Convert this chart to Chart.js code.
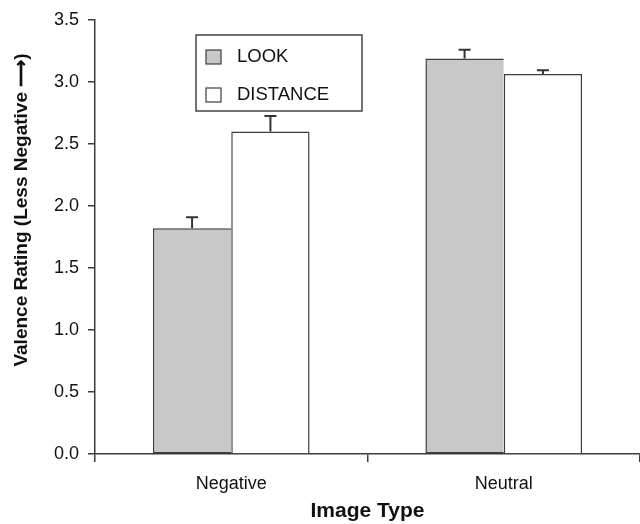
<!DOCTYPE html>
<html lang="en">
<head>
  <meta charset="UTF-8">
  <title>Valence Rating by Image Type</title>
  <script src="https://cdn.jsdelivr.net/npm/chart.js"></script>
  <style>
    html, body { margin: 0; padding: 0; background: #fff; }
  </style>
</head>
<body>
  <canvas id="valenceChart" width="640" height="524"></canvas>

  <script>
    const categories = ['Negative', 'Neutral'];
    const seriesNames = ['LOOK', 'DISTANCE'];
    const lookValues = [1.82, 3.19];
    const lookErrors = [0.09, 0.07];
    const distanceValues = [2.60, 3.065];
    const distanceErrors = [0.125, 0.03];
    const yTicks = [0, 0.5, 1.0, 1.5, 2.0, 2.5, 3.0, 3.5];

    const errors = [lookErrors, distanceErrors];
    const fontFamily = '"Liberation Sans", Arial, sans-serif';
    const edge = '#3c3c3c';

    // upward-only error bars with a small cap
    const errorBars = {
      id: 'errorBars',
      afterDatasetsDraw(chart) {
        const ctx = chart.ctx;
        const y = chart.scales.y;
        ctx.save();
        ctx.strokeStyle = '#333';
        ctx.lineWidth = 2;
        chart.data.datasets.forEach((ds, i) => {
          chart.getDatasetMeta(i).data.forEach((bar, j) => {
            const top = y.getPixelForValue(ds.data[j] + errors[i][j]);
            ctx.beginPath();
            ctx.moveTo(bar.x, bar.y);
            ctx.lineTo(bar.x, top);
            ctx.moveTo(bar.x - 6, top);
            ctx.lineTo(bar.x + 6, top);
            ctx.stroke();
          });
        });
        ctx.restore();
      }
    };

    // boxed legend inside the plot and the rotated y title
    const extras = {
      id: 'extras',
      afterDraw(chart) {
        const ctx = chart.ctx;
        const area = chart.chartArea;
        const lx = area.left + 101;
        const ly = area.top + 15;
        ctx.save();
        ctx.fillStyle = '#fff';
        ctx.fillRect(lx, ly, 166, 76);
        ctx.strokeStyle = '#444';
        ctx.lineWidth = 1.5;
        ctx.strokeRect(lx, ly, 166, 76);

        ctx.font = '18.5px ' + fontFamily;
        ctx.textBaseline = 'middle';
        chart.data.datasets.forEach((ds, i) => {
          const cy = ly + 22 + i * 38;
          ctx.fillStyle = ds.backgroundColor;
          ctx.fillRect(lx + 10, cy - 7, 15, 14);
          ctx.strokeStyle = edge;
          ctx.lineWidth = 1.2;
          ctx.strokeRect(lx + 10, cy - 7, 15, 14);
          ctx.fillStyle = '#111';
          ctx.fillText(ds.label, lx + 41, cy);
        });

        ctx.translate(22, 210);
        ctx.rotate(-Math.PI / 2);
        ctx.textAlign = 'center';
        ctx.font = 'bold 19px ' + fontFamily;
        ctx.fillStyle = '#111';
        ctx.fillText('Valence Rating (Less Negative \u27F6)', 0, 0);
        ctx.restore();
      }
    };

    new Chart(document.getElementById('valenceChart'), {
      type: 'bar',
      data: {
        labels: categories,
        datasets: [
          {
            label: seriesNames[0],
            data: lookValues,
            backgroundColor: '#c8c8c8',
            borderColor: edge,
            borderWidth: 1.5,
            borderSkipped: 'right'
          },
          {
            label: seriesNames[1],
            data: distanceValues,
            backgroundColor: '#ffffff',
            borderColor: edge,
            borderWidth: 1.5
          }
        ]
      },
      options: {
        responsive: false,
        animation: false,
        layout: { padding: { top: 20, right: 0, left: 0, bottom: 0 } },
        categoryPercentage: 0.575,
        barPercentage: 1.0,
        plugins: {
          legend: { display: false },
          tooltip: { enabled: false }
        },
        scales: {
          x: {
            afterFit(scale) { scale.height = 70; },
            border: { display: true, color: edge, width: 1.5 },
            grid: { drawOnChartArea: false, drawTicks: true, tickLength: 8, color: edge, lineWidth: 1.5, offset: true },
            ticks: { color: '#111', font: { family: fontFamily, size: 18 }, padding: 11, maxRotation: 0 },
            title: { display: true, text: 'Image Type', color: '#111', font: { family: fontFamily, size: 21, weight: 'bold' }, padding: { top: 2, bottom: 0 } }
          },
          y: {
            min: 0,
            max: 3.5,
            afterFit(scale) { scale.width = 95; },
            afterBuildTicks(scale) { scale.ticks = yTicks.map(v => ({ value: v })); },
            border: { display: true, color: edge, width: 1.5 },
            grid: { drawOnChartArea: false, drawTicks: true, tickLength: 7, color: edge, lineWidth: 1.5 },
            ticks: {
              color: '#111',
              font: { family: fontFamily, size: 18 },
              padding: 9,
              callback: v => Number(v).toFixed(1)
            }
          }
        }
      },
      plugins: [errorBars, extras]
    });
  </script>
</body>
</html>
